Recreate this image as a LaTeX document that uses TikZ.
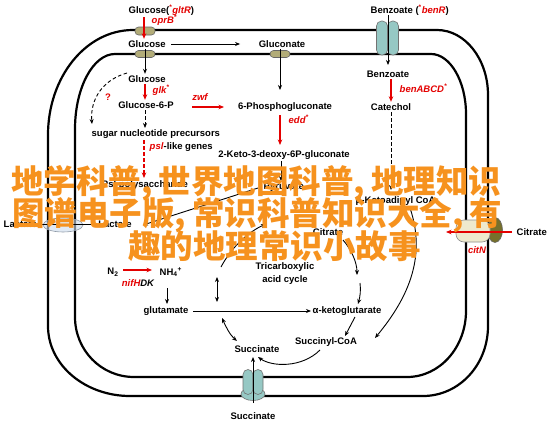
\documentclass[tikz,border=0pt]{standalone}
\usepackage{fontspec}
\setmainfont{Liberation Sans}
\newfontfamily\cjk{Noto Sans CJK SC}
\usetikzlibrary{arrows.meta,shapes.geometric}
\definecolor{gred}{RGB}{228,0,0}
\definecolor{wm}{RGB}{246,146,30}
\definecolor{olivecap}{RGB}{178,172,120}
\definecolor{tealcap}{RGB}{150,200,196}
\definecolor{creamcap}{RGB}{238,233,205}
\definecolor{darkolive}{RGB}{118,112,44}
\definecolor{lacblue}{RGB}{205,220,238}
\newcommand\wmc{\makebox[17.5pt][l]{,}}
\begin{document}
\begin{tikzpicture}[x=1pt,y=-1pt,
  lbl/.style={font=\bfseries\fontsize{9.5}{10}\selectfont, inner sep=1.5pt},
  gene/.style={font=\bfseries\itshape\fontsize{9.5}{10}\selectfont, text=gred, inner sep=1.5pt},
  arr/.style={-{Stealth[length=5pt,width=4pt]}, line width=0.9pt},
  dbl/.style={{Stealth[length=5pt,width=4pt]}-{Stealth[length=5pt,width=4pt]}, line width=0.9pt},
  rarr/.style={-{Stealth[length=5.5pt,width=4.5pt]}, line width=1.8pt, draw=gred},
  dsh/.style={dash pattern=on 3.5pt off 2.5pt},
  memb/.style={line width=2.2pt, draw=black},
  porin/.style={draw=black!60, line width=0.6pt, fill=olivecap, rounded corners=3.5pt, inner sep=0pt},
  tporin/.style={draw=black!55, line width=0.6pt, fill=tealcap, rounded corners=5pt, inner sep=0pt},
  wmtext/.style={font=\cjk\bfseries\fontsize{32.5}{33}\selectfont, text=wm, inner sep=0pt}]
\useasboundingbox (0,0) rectangle (550,423);
\fill[white] (0,0) rectangle (550,423);

% membranes
\draw[memb] (48,135) .. controls (48,77) and (86,30) .. (133,30) -- (437,30)
  .. controls (465,30) and (488,59) .. (488,95) -- (488,326)
  .. controls (488,365) and (459,396) .. (423,396) -- (130,396)
  .. controls (85,396) and (48,365) .. (48,326) -- cycle;
\draw[memb] (75,129) .. controls (75,88) and (93,54) .. (115,54) -- (431,54)
  .. controls (450,54) and (466,81) .. (466,114) -- (466,311)
  .. controls (466,347) and (440,377) .. (407,377) -- (134,377)
  .. controls (101,377) and (75,350) .. (75,317) -- cycle;

% transporters
\node[porin, minimum width=20pt, minimum height=8pt] (po1) at (145,31) {};
\node[porin, minimum width=20pt, minimum height=7pt] (po2) at (145,54) {};
\node[porin, minimum width=20pt, minimum height=7pt] (po3) at (280,54) {};
\node[tporin, minimum width=11pt, minimum height=34pt] (bt1) at (382,38) {};
\node[tporin, minimum width=11pt, minimum height=34pt] (bt2) at (393,38) {};
\node[draw=black!55, line width=0.6pt, fill=tealcap, ellipse, minimum width=24pt, minimum height=13pt, inner sep=0pt] (sb0) at (253,394) {};
\node[tporin, minimum width=10pt, minimum height=25pt] (sb1) at (248,382) {};
\node[tporin, minimum width=10pt, minimum height=25pt] (sb2) at (258,382) {};
\node[draw=black!60, line width=0.6pt, fill=darkolive, ellipse, minimum width=15pt, minimum height=25pt, inner sep=0pt] (ct1) at (495,230) {};
\node[draw=black!45, line width=0.6pt, fill=creamcap, rounded corners=8pt, minimum width=34pt, minimum height=22pt, inner sep=0pt] (ct2) at (473,231) {};
\node[draw=lacblue!70!black, line width=0.6pt, fill=lacblue, fill opacity=0.6, ellipse, minimum width=40pt, minimum height=14pt, inner sep=0pt] (lt) at (63,225) {};

% labels
\node[lbl, anchor=west] (glcOut) at (127,10) {Glucose(\textcolor{gred}{\textsuperscript{*}\textit{gltR}})};
\node[gene, anchor=west] (oprB) at (150,20) {oprB\textsuperscript{*}};
\node[lbl] (glcP) at (147,44) {Glucose};
\node[lbl] (glcn) at (282,44) {Gluconate};
\node[lbl] (glcIn) at (147,79) {Glucose};
\node[gene, anchor=west] (glk) at (151,90) {glk\textsuperscript{*}};
\node[lbl] (g6p) at (146,105) {Glucose-6-P};
\node[gene] (zwf) at (200,97) {zwf};
\node[lbl] (pg6) at (285,107) {6-Phosphogluconate};
\node[gene, font=\bfseries\fontsize{9.5}{10}\selectfont] (q) at (108,97) {?};
\node[gene, anchor=west] (edd) at (287,119) {edd\textsuperscript{*}};
\node[lbl, anchor=west] (sugar) at (90,134) {sugar nucleotide precursors};
\node[lbl, anchor=west] (psl) at (148,147) {\textcolor{gred}{\textit{psl}}-like genes};
\node[lbl] (kdpg) at (284,155) {2-Keto-3-deoxy-6P-gluconate};
\node[lbl] (pslp) at (145,185) {Psl polysaccharide};
\node[lbl, anchor=west] (pyr) at (262,187) {Pyruvate};
\node[lbl, anchor=west] (bka) at (354,201) {β-Ketoadipyl CoA};
\node[lbl, anchor=west] (lacOut) at (2,224) {Lactate};
\node[lbl] (lacIn) at (115,224) {Lactate};
\node[lbl] (citIn) at (328,232) {Citrate};
\node[lbl, anchor=west] (citOut) at (515,232) {Citrate};
\node[gene] (citN) at (477,250) {citN};
\node[lbl] (tca1) at (285,267) {Tricarboxylic};
\node[lbl] (tca2) at (285,280) {acid cycle};
\node[lbl] (n2) at (113,272) {N\textsubscript{2}};
\node[lbl, anchor=west] (nh4) at (158,272) {NH\textsubscript{4}\textsuperscript{+}};
\node[gene] (nif) at (138,283) {\textcolor{gred}{nifH}\textcolor{black}{DK}};
\node[lbl] (glu) at (166,311) {glutamate};
\node[lbl] (akg) at (347,311) {α-ketoglutarate};
\node[lbl] (scoa) at (326,342) {Succinyl-CoA};
\node[lbl] (succ) at (257,349) {Succinate};
\node[lbl] (succOut) at (253,416) {Succinate};
\node[lbl, anchor=west] (bzOut) at (369,10) {Benzoate (\textcolor{gred}{\textsuperscript{*}\textit{benR}})};
\node[lbl] (bzIn) at (388,74) {Benzoate};
\node[gene, anchor=west] (ben) at (398,88) {benABCD\textsuperscript{*}};
\node[lbl] (cat) at (391,107) {Catechol};

% helper coordinates
\coordinate (oprS) at (144,17);
\coordinate (gcS) at (280,49);
\coordinate (gcE) at (280,90);
\coordinate (zwS) at (192,107);
\coordinate (zwE) at (224,107);
\coordinate (edS) at (280,115);
\coordinate (edE) at (280,145);
\coordinate (qS) at (127,73);
\coordinate (qE) at (92,124);
\coordinate (sgE) at (145,128);
\coordinate (psS) at (144,140);
\coordinate (psE) at (144,178);
\coordinate (kpE) at (281,181);
\coordinate (pyS) at (258,188);
\coordinate (lacE) at (143,225);
\coordinate (catE) at (391,190);
\coordinate (bzS) at (388,15);
\coordinate (bzE) at (388,65);
\coordinate (ciS) at (512,232);
\coordinate (ciE) at (446,232);
\coordinate (bkS) at (410,208);
\coordinate (bkE) at (375,338);
\coordinate (cyS) at (343,240);
\coordinate (cyE) at (357,275);
\coordinate (icS) at (360,283);
\coordinate (icE) at (358,304);
\coordinate (lfS) at (221,267);
\coordinate (lfE) at (266,224);
\coordinate (dvS) at (217,277);
\coordinate (dvE) at (217,302);
\coordinate (gkS) at (193,311);
\coordinate (gkE) at (311,311);
\coordinate (dsS) at (222,318);
\coordinate (dsE) at (237,341);
\coordinate (akS) at (355,317);
\coordinate (akE) at (345,336);
\coordinate (scS) at (320,350);
\coordinate (scE) at (258,357);
\coordinate (suS) at (253,403);
\coordinate (suE) at (253,357);
\coordinate (nhS) at (167,288);
\coordinate (nhE) at (167,304);
\coordinate (n2S) at (123,270);
\coordinate (n2E) at (152,270);

% connectors
\draw[rarr] (oprS) -- (oprS |- glcP.north);
\draw[arr] ([xshift=4pt]glcP.east) -- ([xshift=-17pt]glcn.west);
\draw[arr] (glcP.south -| po2) -- (glcIn.north -| po2);
\draw[arr] (gcS) -- (gcE);
\draw[rarr] (glcIn.south -| po2) -- (g6p.north -| po2);
\draw[rarr] (zwS) -- (zwE);
\draw[rarr] (edS) -- (edE);
\draw[arr, dsh] (qS) .. controls (102,80) and (90,100) .. (qE);
\draw[arr, dsh] (g6p.south -| po2) -- (sgE);
\draw[rarr, dsh] (psS) -- (psE);
\draw[arr] (kdpg.south -| kpE) -- (kpE);
\draw[arr] (pyS) -- (lacE);
\draw[line width=0.9pt] (lacIn.west) -- (lacOut.east);
\draw[arr, dsh] (cat.south) -- (catE);
\draw[rarr] (bzIn.south -| cat) -- (cat.north);
\draw[arr] (bzS) -- (bzE);
\draw[rarr] (ciS) -- (ciE);
\draw[arr] (bkS) .. controls (426,255) and (410,296) .. (bkE);
\draw[arr] (cyS) .. controls (351,249) and (357,262) .. (cyE);
\draw[arr] (icS) .. controls (361,290) and (360,297) .. (icE);
\draw[arr] (lfS) .. controls (232,246) and (250,231) .. (lfE);
\draw[dbl] (dvS) -- (dvE);
\draw[arr] (gkS) -- (gkE);
\draw[dbl] (dsS) .. controls (226,327) and (230,335) .. (dsE);
\draw[arr] (akS) -- (akE);
\draw[arr] (scS) .. controls (302,368) and (272,367) .. (scE);
\draw[arr] (suS) -- (suE);
\draw[arr] (nhS) -- (nhE);
\draw[rarr, line width=2.2pt] (n2S) -- (n2E);

% watermark
\node[wmtext, anchor=base west] (wm1) at (11,193) {地学科普\wmc 世界地图科普\wmc 地理知识};
\node[wmtext, anchor=base west] (wm2) at (12,225) {图谱电子版\wmc 常识科普知识大全\wmc 有};
\node[wmtext, anchor=base west] (wm3) at (128,258) {趣的地理常识小故事};
\end{tikzpicture}
\end{document}
